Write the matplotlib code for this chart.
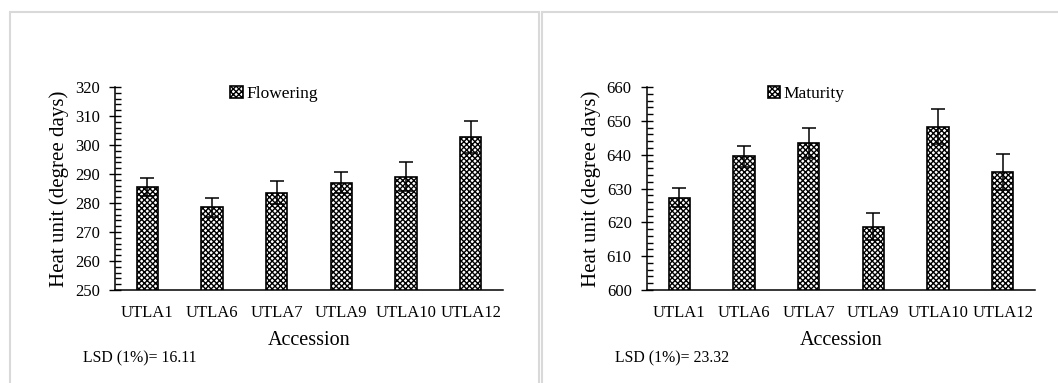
import matplotlib
matplotlib.use("Agg")
import matplotlib.pyplot as plt
from matplotlib.ticker import AutoMinorLocator, MultipleLocator
from matplotlib.patches import Rectangle

plt.rcParams['font.family'] = ['Liberation Serif', 'DejaVu Serif']
plt.rcParams['hatch.linewidth'] = 1.0

accessions = ['UTLA1', 'UTLA6', 'UTLA7', 'UTLA9', 'UTLA10', 'UTLA12']
flowering = [285.6, 278.5, 283.6, 287.0, 289.1, 302.9]
flowering_err = [3.1, 3.3, 4.1, 3.7, 5.0, 5.5]
maturity = [627.3, 639.5, 643.4, 618.7, 648.3, 634.9]
maturity_err = [2.9, 3.2, 4.5, 4.0, 5.2, 5.4]
lsd = ['LSD (1%)= 16.11', 'LSD (1%)= 23.32']

fig = plt.figure(figsize=(10.58, 3.83), dpi=100)

# light grey panel frames
fig.patches.append(Rectangle((10/1058, -0.1), 529/1058, 1.1 - 12/383, transform=fig.transFigure,
                             fill=False, edgecolor='#d9d9d9', linewidth=1.5))
fig.patches.append(Rectangle((542/1058, -0.1), 530/1058, 1.1 - 12/383, transform=fig.transFigure,
                             fill=False, edgecolor='#d9d9d9', linewidth=1.5))

panels = [
    (0.1087, flowering, flowering_err, 'Flowering', (250, 320), lsd[0], 83),
    (0.6115, maturity, maturity_err, 'Maturity', (600, 660), lsd[1], 615),
]

for x0, vals, errs, name, ylim, lsd_txt, lsd_x in panels:
    ax = fig.add_axes([x0, 0.2428, 0.3667, 0.53])
    x = range(len(accessions))
    ax.bar(x, vals, width=0.33, color='white', edgecolor='black', linewidth=1.2,
           hatch='xxxxxx', label=name, zorder=2)
    ax.errorbar(x, vals, yerr=errs, fmt='none', ecolor='black', elinewidth=1.1,
                capsize=5, capthick=1.1, zorder=3)
    ax.set_xlim(-0.5, 5.5)
    ax.set_ylim(*ylim)
    ax.yaxis.set_major_locator(MultipleLocator(10))
    ax.yaxis.set_minor_locator(AutoMinorLocator(5))
    ax.set_xticks(list(x))
    ax.set_xticklabels(accessions, fontsize=12)
    ax.tick_params(axis='x', length=0, pad=11)
    ax.tick_params(axis='y', which='major', direction='inout', length=9, width=1, labelsize=12, pad=6.5)
    ax.tick_params(axis='y', which='minor', direction='in', length=4, width=1)
    for s in ['top', 'right']:
        ax.spines[s].set_visible(False)
    ax.spines['left'].set_linewidth(1.1)
    ax.spines['bottom'].set_linewidth(1.1)
    ax.set_ylabel('Heat unit (degree days)', fontsize=15, labelpad=4)
    ax.set_xlabel('Accession', fontsize=14.5, labelpad=7)
    leg = ax.legend(loc='center', bbox_to_anchor=(0.41, 0.965), frameon=False, fontsize=12.5,
                    handlelength=0.7, handleheight=0.7, handletextpad=0.2, borderpad=0)
    fig.text(lsd_x / 1058, 1 - 358 / 383, lsd_txt, fontsize=11.3, va='center', ha='left')

fig.savefig('out.png', dpi=100)
